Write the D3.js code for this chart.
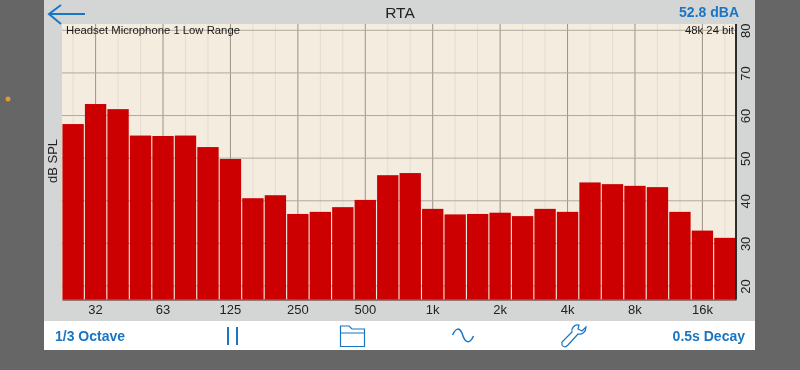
<!DOCTYPE html>
<html>
<head>
<meta charset="utf-8">
<script src="https://cdn.jsdelivr.net/npm/d3@7"></script>
<style>
html, body { margin: 0; padding: 0; background: #666666; }
svg { display: block; filter: blur(0.35px); }
text { font-family: "Liberation Sans", Arial, sans-serif; }
</style>
</head>
<body>
<div id="chart"></div>
<script>
const bands = ["25", "32", "40", "50", "63", "80", "100", "125", "160", "200", "250", "315", "400", "500", "630", "800",
    "1k", "1.25k", "1.6k", "2k", "2.5k", "3.15k", "4k", "5k", "6.3k", "8k", "10k", "12.5k", "16k", "20k"];
const levels = [58.0, 62.7, 61.5, 55.3, 55.2, 55.3, 52.6, 49.8, 40.6, 41.3, 36.9, 37.4, 38.5, 40.2, 46.0, 46.5,
    38.1, 36.8, 36.9, 37.2, 36.4, 38.1, 37.4, 44.3, 43.9, 43.5, 43.2, 37.4, 33.0, 31.3];
const octaveTicks = ["32", "63", "125", "250", "500", "1k", "2k", "4k", "8k", "16k"];
const dbTicks = [20, 30, 40, 50, 60, 70, 80];

const width = 800, height = 370;
const panel = { left: 44, right: 755, bottom: 350, toolbar: 321 };
const plot = { left: 62, right: 736, top: 24, bottom: 299.5 };
const blue = "#1a75c4";

let svg = d3.select("#chart")
    .append("svg")
    .attr("width", width)
    .attr("height", height);

// phone screen
svg.append("rect").attr("width", width).attr("height", height).attr("fill", "#666666");
svg.append("rect")
    .attr("x", panel.left).attr("y", 0)
    .attr("width", panel.right - panel.left).attr("height", panel.bottom)
    .attr("fill", "#d4d6d6");
svg.append("rect")
    .attr("x", panel.left).attr("y", panel.toolbar)
    .attr("width", panel.right - panel.left).attr("height", panel.bottom - panel.toolbar)
    .attr("fill", "#ffffff");
svg.append("circle").attr("cx", 8).attr("cy", 99).attr("r", 2.5).attr("fill", "#e0993a");

let x = d3.scaleBand()
    .domain(bands)
    .range([plot.left, plot.right])
    .paddingInner(0.05)
    .paddingOuter(0.02);
let y = d3.scaleLinear()
    .domain([20, 80])
    .range([286, 30.3]);

svg.append("rect")
    .attr("x", plot.left).attr("y", plot.top)
    .attr("width", plot.right - plot.left).attr("height", plot.bottom - plot.top)
    .attr("fill", "#f3ecdf");

// grid
svg.append("g")
    .selectAll("line")
    .data(bands)
    .join("line")
    .attr("x1", d => x(d) + x.bandwidth() / 2)
    .attr("x2", d => x(d) + x.bandwidth() / 2)
    .attr("y1", plot.top)
    .attr("y2", plot.bottom)
    .attr("stroke", d => octaveTicks.includes(d) ? "#9a9486" : "#e4ddcf")
    .attr("stroke-width", 1);
svg.append("g")
    .selectAll("line")
    .data(dbTicks)
    .join("line")
    .attr("x1", plot.left)
    .attr("x2", plot.right)
    .attr("y1", d => y(d))
    .attr("y2", d => y(d))
    .attr("stroke", "#b0aa9e")
    .attr("stroke-width", 1);

// bars
svg.append("g")
    .selectAll("rect")
    .data(levels)
    .join("rect")
    .attr("x", (d, i) => x(bands[i]))
    .attr("y", d => y(d))
    .attr("width", x.bandwidth())
    .attr("height", d => plot.bottom - y(d))
    .attr("fill", "#cc0000");

// axes
let xAxis = svg.append("g")
    .attr("transform", "translate(0," + plot.bottom + ")")
    .call(d3.axisBottom(x).tickValues(octaveTicks).tickSize(0).tickPadding(5));
xAxis.select(".domain").attr("stroke", "#5a1a1a").attr("stroke-width", 1);
xAxis.selectAll("text").attr("font-size", 13).attr("fill", "#222222").style("font-family", "'Liberation Sans'");

let yAxis = svg.append("g")
    .attr("transform", "translate(" + plot.right + ",0)")
    .call(d3.axisRight(y).tickValues(dbTicks).tickSize(0));
yAxis.select(".domain").remove();
yAxis.append("line")
    .attr("y1", plot.top).attr("y2", plot.bottom)
    .attr("stroke", "#000000").attr("stroke-width", 1.6);
yAxis.selectAll(".tick text")
    .attr("font-size", 13)
    .attr("fill", "#222222")
    .attr("x", 0)
    .attr("dy", 0)
    .attr("text-anchor", "middle")
    .attr("transform", "translate(14,0) rotate(-90)")
    .style("font-family", "'Liberation Sans'");

// labels
function label(txt, px, py, size, fill, anchor, weight) {
    return svg.append("text")
        .attr("x", px).attr("y", py)
        .attr("font-size", size)
        .attr("fill", fill)
        .attr("text-anchor", anchor)
        .attr("font-weight", weight || "normal")
        .text(txt);
}
label("RTA", 400, 18, 15.5, "#222222", "middle");
label("52.8 dBA", 739, 17, 14, blue, "end", "bold");
label("Headset Microphone 1 Low Range", 66, 34, 11.3, "#1a1a1a", "start");
label("48k 24 bit", 734, 34, 11.3, "#1a1a1a", "end");
label("1/3 Octave", 55, 341, 14, blue, "start", "bold");
label("0.5s Decay", 745, 341, 14, blue, "end", "bold");
svg.append("text")
    .attr("transform", "translate(57,161) rotate(-90)")
    .attr("font-size", 13)
    .attr("fill", "#222222")
    .attr("text-anchor", "middle")
    .text("dB SPL");

// toolbar icons
let icons = svg.append("g").attr("fill", "none").attr("stroke", blue).attr("stroke-width", 1.5);
icons.append("path").attr("d", "M85,14H50M61,5L49,14L61,24").attr("stroke-width", 2);
icons.append("path").attr("d", "M228,327V345M237,327V345").attr("stroke-width", 2);
icons.append("path").attr("d", "M340.5,346.5V326H349L352,329H364.5V346.5ZM340.5,333H364.5").attr("stroke-width", 1.2);
icons.append("path").attr("d", "M452.5,335C456,328 459,327 462,333C465,344 470,344 473.5,336");
icons.append("path")
    .attr("d", "M562,345C564,348 566,347 568,345L578,334C582,335 586,332 586,327L582,331L578,329L579,325C574,324 571,329 572,332L562,342Z")
    .attr("stroke-width", 1.2);
</script>
</body>
</html>
